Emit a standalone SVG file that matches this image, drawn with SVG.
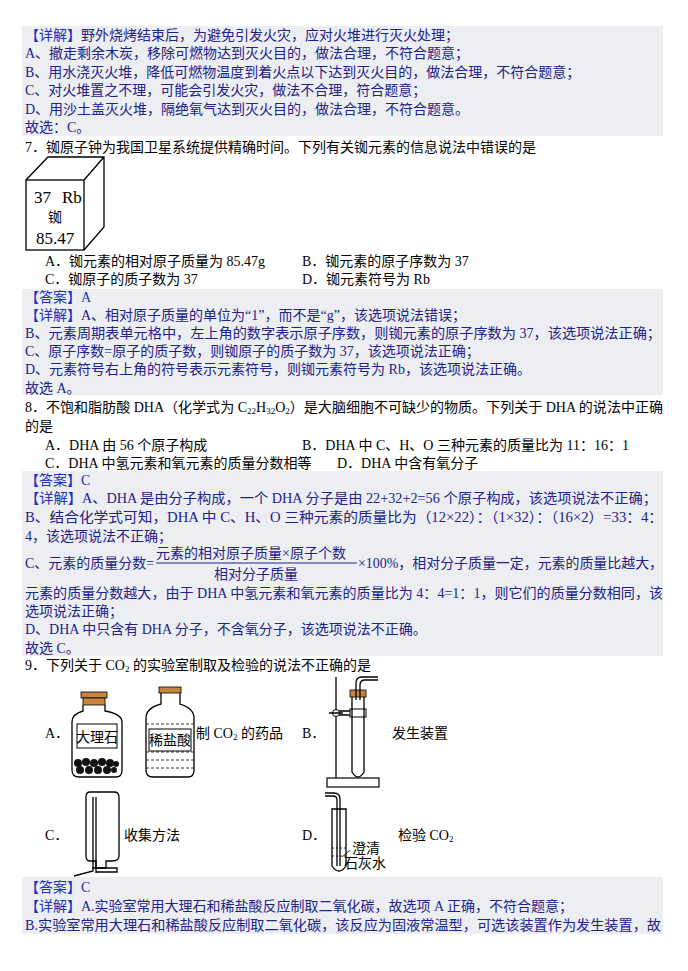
<svg xmlns="http://www.w3.org/2000/svg" width="688" height="971" viewBox="0 0 688 971">
<style>
text{font-family:"Liberation Serif","Noto Sans CJK SC",serif;font-size:14px;dominant-baseline:central}
.b{fill:#22228a}
.k{fill:#000}
.br{fill:#2030c0}
.bg{fill:#eceef1}
.ln{fill:none;stroke:#000;stroke-width:1.3}
.big{font-size:17px}
</style>
<rect width="688" height="971" fill="#fff"/>
<rect class="bg" x="22" y="26" width="641" height="110"/>
<rect class="bg" x="22" y="289" width="641" height="106"/>
<rect class="bg" x="22" y="471" width="641" height="185"/>
<rect class="bg" x="22" y="877" width="641" height="57"/>

<g id="block1">
<text x="25" y="35" class="b"><tspan class="br">【详解】</tspan>野外烧烤结束后，为避免引发火灾，应对火堆进行灭火处理；</text>
<text x="25" y="53" class="b">A、撤走剩余木炭，移除可燃物达到灭火目的，做法合理，不符合题意；</text>
<text x="25" y="72" class="b">B、用水浇灭火堆，降低可燃物温度到着火点以下达到灭火目的，做法合理，不符合题意；</text>
<text x="25" y="90" class="b">C、对火堆置之不理，可能会引发火灾，做法不合理，符合题意；</text>
<text x="25" y="109" class="b">D、用沙土盖灭火堆，隔绝氧气达到灭火目的，做法合理，不符合题意。</text>
<text x="25" y="127" class="b">故选：C。</text>
</g>

<g id="q7">
<text x="25" y="147" class="k">7．铷原子钟为我国卫星系统提供精确时间。下列有关铷元素的信息说法中错误的是</text>
<g id="rb-box">
<rect class="ln" x="26" y="180" width="58" height="70"/>
<path class="ln" d="M26 180 L48 157 L104 157 L104 227 L84 250 M84 180 L104 157"/>
<text x="34" y="197" class="k big">37</text>
<text x="62" y="197" class="k big">Rb</text>
<text x="55" y="217" text-anchor="middle" class="k">铷</text>
<text x="55" y="238" text-anchor="middle" class="k big">85.47</text>
</g>
<text x="45" y="261" class="k">A．铷元素的相对原子质量为 85.47g</text>
<text x="302" y="261" class="k">B．铷元素的原子序数为 37</text>
<text x="45" y="279" class="k">C．铷原子的质子数为 37</text>
<text x="302" y="279" class="k">D．铷元素符号为 Rb</text>
</g>

<g id="block2">
<text x="25" y="297" class="br">【答案】A</text>
<text x="25" y="315" class="b"><tspan class="br">【详解】</tspan>A、相对原子质量的单位为“1”，而不是“g”，该选项说法错误；</text>
<text x="25" y="333" class="b" textLength="636" lengthAdjust="spacingAndGlyphs">B、元素周期表单元格中，左上角的数字表示原子序数，则铷元素的原子序数为 37，该选项说法正确；</text>
<text x="25" y="351" class="b">C、原子序数=原子的质子数，则铷原子的质子数为 37，该选项说法正确；</text>
<text x="25" y="369" class="b">D、元素符号右上角的符号表示元素符号，则铷元素符号为 Rb，该选项说法正确。</text>
<text x="25" y="388" class="b">故选 A。</text>
</g>

<g id="q8">
<text x="25" y="407" class="k" textLength="638" lengthAdjust="spacingAndGlyphs">8．不饱和脂肪酸 DHA（化学式为 C<tspan font-size="9" dy="4">22</tspan><tspan dy="-4">H</tspan><tspan font-size="9" dy="4">32</tspan><tspan dy="-4">O</tspan><tspan font-size="9" dy="4">2</tspan><tspan dy="-4">）是大脑细胞不可缺少的物质。下列关于 DHA 的说法中正确</tspan></text>
<text x="25" y="426" class="k">的是</text>
<text x="45" y="445" class="k">A．DHA 由 56 个原子构成</text>
<text x="302" y="445" class="k">B．DHA 中 C、H、O 三种元素的质量比为 11：16：1</text>
<text x="45" y="463" class="k">C．DHA 中氢元素和氧元素的质量分数相等</text>
<text x="337" y="463" class="k">D．DHA 中含有氧分子</text>
</g>

<g id="block3">
<text x="25" y="480" class="br">【答案】C</text>
<text x="25" y="498" class="b" textLength="632" lengthAdjust="spacingAndGlyphs"><tspan class="br">【详解】</tspan>A、DHA 是由分子构成，一个 DHA 分子是由 22+32+2=56 个原子构成，该选项说法不正确；</text>
<text x="25" y="517" class="b" textLength="638" lengthAdjust="spacingAndGlyphs">B、结合化学式可知，DHA 中 C、H、O 三种元素的质量比为（12×22）：（1×32）：（16×2）=33：4：</text>
<text x="25" y="536" class="b">4，该选项说法不正确；</text>
<text x="25" y="563" class="b">C、元素的质量分数=</text>
<text x="156" y="553" class="b">元素的相对原子质量×原子个数</text>
<line x1="156" y1="563" x2="357" y2="563" stroke="#22228a" stroke-width="1"/>
<text x="256" y="574" text-anchor="middle" class="b">相对分子质量</text>
<text x="358" y="563" class="b" textLength="305" lengthAdjust="spacingAndGlyphs">×100%，相对分子质量一定，元素的质量比越大，</text>
<text x="25" y="593" class="b" textLength="638" lengthAdjust="spacingAndGlyphs">元素的质量分数越大，由于 DHA 中氢元素和氧元素的质量比为 4：4=1：1，则它们的质量分数相同，该</text>
<text x="25" y="611" class="b">选项说法正确；</text>
<text x="25" y="629" class="b">D、DHA 中只含有 DHA 分子，不含氧分子，该选项说法不正确。</text>
<text x="25" y="648" class="b">故选 C。</text>
</g>

<g id="q9">
<text x="25" y="665" class="k">9．下列关于 CO<tspan font-size="9" dy="4">2</tspan><tspan dy="-4"> 的实验室制取及检验的说法不正确的是</tspan></text>
<g id="optA">
<text x="45" y="733" class="k">A．</text>
<rect x="81" y="692" width="26" height="6" fill="#c8843a" stroke="#000" stroke-width="0.8"/>
<rect x="83" y="698" width="22" height="7" fill="#c8843a" stroke="#000" stroke-width="0.8"/>
<path class="ln" d="M83 705 L83 711 Q72 714 72 722 L72 770 Q72 777 79 777 L116 777 Q122 777 122 770 L122 722 Q122 714 105 711 L105 705"/>
<rect x="77" y="724" width="40" height="24" fill="#fff" stroke="#000"/>
<text x="97" y="737" text-anchor="middle" class="k">大理石</text>
<g fill="#111"><circle cx="78" cy="763" r="4"/><circle cx="86" cy="762" r="4"/><circle cx="94" cy="763" r="4"/><circle cx="102" cy="762" r="4"/><circle cx="110" cy="763" r="4"/><circle cx="116" cy="764" r="3"/><circle cx="80" cy="770" r="4"/><circle cx="89" cy="770" r="4"/><circle cx="98" cy="770" r="4"/><circle cx="107" cy="770" r="4"/><circle cx="114" cy="770" r="3"/></g>
<rect x="159" y="687" width="22" height="6" fill="#c8843a" stroke="#000" stroke-width="0.8"/>
<path class="ln" d="M161 693 L161 704 Q146 708 146 718 L146 770 Q146 777 153 777 L188 777 Q194 777 194 770 L194 718 Q194 708 180 704 L180 693"/>
<path fill="none" stroke="#000" stroke-width="0.8" stroke-dasharray="3 2" d="M146 724 H194 M146 752 H194 M146 760 H194 M146 768 H194"/>
<rect x="149" y="729" width="42" height="22" fill="#fff" stroke="#000"/>
<text x="170" y="740" text-anchor="middle" class="k">稀盐酸</text>
<text x="196" y="733" class="k">制 CO<tspan font-size="9" dy="4">2</tspan><tspan dy="-4"> 的药品</tspan></text>
</g>
<g id="optB">
<text x="302" y="733" class="k">B．</text>
<rect x="327" y="778" width="52" height="9" fill="#fff" stroke="#000" stroke-width="1.2"/>
<line class="ln" x1="336" y1="677" x2="336" y2="778"/>
<circle cx="336" cy="713" r="3.5" fill="#fff" stroke="#000"/>
<path class="ln" d="M329 713 H343 M339 711 H352 M339 715 H352"/>
<rect x="350" y="709" width="16" height="8" fill="#fff" stroke="#000"/>
<path class="ln" d="M352 697 L352 772 Q358 782 364 772 L364 697"/>
<rect x="350" y="690" width="16" height="7" fill="#c8843a" stroke="#000" stroke-width="0.8"/>
<path class="ln" d="M356 700 L356 683 Q356 677 362 677 L378 677 M360 700 L360 685 Q360 680 365 680 L378 680"/>
<text x="392" y="733" class="k">发生装置</text>
</g>
<g id="optC">
<text x="45" y="835" class="k">C．</text>
<path class="ln" d="M90 792 L114 792 Q119 792 119 797 L119 856 Q119 861 112 861 L106 861 L106 868 L96 868 L96 861 L90 861 Q86 861 86 856 L86 797 Q86 792 90 792"/>
<path class="ln" d="M93 797 L93 871 L74 876 M96 797 L96 873"/>
<path class="ln" d="M92 868 L117 868 L117 872 L96 872"/>
<text x="124" y="835" class="k">收集方法</text>
</g>
<g id="optD">
<text x="302" y="835" class="k">D．</text>
<path class="ln" d="M332 809 L332 866 Q339 876 346 866 L346 809 Z"/>
<path fill="none" stroke="#000" stroke-width="0.8" stroke-dasharray="2 2" d="M332 848 H346 M332 856 H346"/>
<path class="ln" d="M337 866 L337 800 Q337 796 333 796 L325 796 M340 866 L340 799 Q340 793 334 793 L325 793"/>
<line x1="342" y1="857" x2="350" y2="850" stroke="#000" stroke-width="0.8"/>
<text x="398" y="835" class="k">检验 CO<tspan font-size="9" dy="4">2</tspan></text>
<text x="352" y="848" class="k">澄清</text>
<text x="344" y="863" class="k">石灰水</text>
</g>
</g>

<g id="block4">
<text x="25" y="887" class="br">【答案】C</text>
<text x="25" y="906" class="b"><tspan class="br">【详解】</tspan>A.实验室常用大理石和稀盐酸反应制取二氧化碳，故选项 A 正确，不符合题意；</text>
<text x="25" y="925" class="b" textLength="636" lengthAdjust="spacingAndGlyphs">B.实验室常用大理石和稀盐酸反应制取二氧化碳，该反应为固液常温型，可选该装置作为发生装置，故</text>
</g>
<g id="connectors"/>
</svg>
